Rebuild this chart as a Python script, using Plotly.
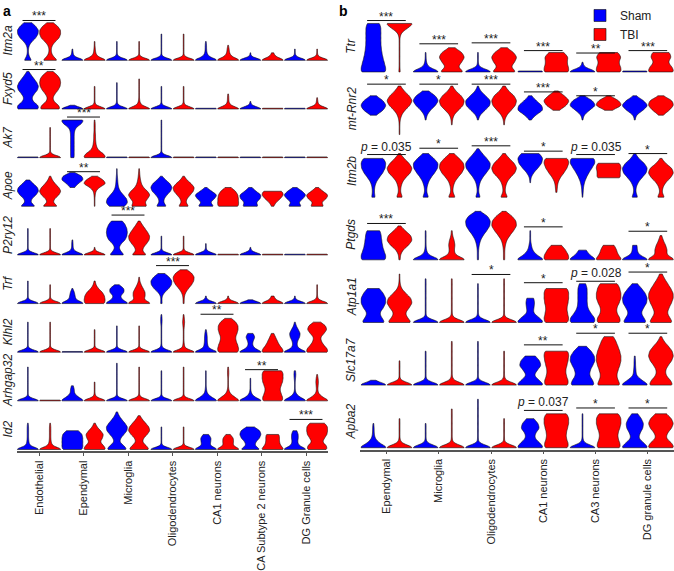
import plotly.graph_objects as go

# ---------------- data ----------------
# Each violin is a density profile: relative weight of cells at expression
# levels 0, 1, 2, ... (row units, 10 = tallest violin of the row).
# A single-entry profile means (almost) all cells at zero expression.

A_CELLS = ["Endothelial", "Ependymal", "Microglia", "Oligodendrocytes",
           "CA1 neurons", "CA Subtype 2 neurons", "DG Granule cells"]
A_GENES = ["Itm2a", "Fxyd5", "Ak7", "Apoe", "P2ry12", "Trf", "Klhl2", "Arhgap32", "Id2"]

ITM2A_SHAM = [[15, 5, 2, 2, 5, 15, 30, 38, 40, 30, 15], [40, 4, 2, 1], [40, 2, 1, 1, 1, 1],
              [40, 1, 1, 1, 1, 1, 1, 1], [40, 8, 3, 2, 2, 1], [40, 1, 1], [40, 2, 1, 1]]
ITM2A_TBI = [[30, 12, 5, 4, 8, 20, 35, 40, 40, 30, 12], [40, 8, 3, 2, 1, 1], [40, 1, 1, 1, 1, 1],
             [40, 1, 1, 1, 1, 1, 1, 1], [40, 10, 4, 3, 1], [40, 8, 3], [40, 2, 1, 1]]
FXYD5_SHAM = [[40, 36, 18, 14, 22, 34, 38, 32, 22, 12, 3], [40, 1], [40, 2, 1, 1, 1, 1, 1, 1],
              [40, 1, 1, 1, 1, 1, 1], [40], [40, 2, 1], [40]]
FXYD5_TBI = [[40, 32, 14, 10, 18, 30, 38, 40, 38, 28, 10], [40, 2, 1, 1, 1, 1, 1],
             [40, 6, 2, 1, 1, 1, 1, 1, 1], [40, 2, 1, 1, 1, 1, 1], [40, 6, 2, 2, 1], [40], [40, 4, 2, 1]]
AK7_SHAM = [[40], [6, 6, 6, 6, 6, 6, 6, 7, 12, 30, 40], [40], [40, 1, 1, 1, 1, 1, 1, 1, 1, 1, 1],
            [40], [40], [40]]
AK7_TBI = [[40, 1, 1, 1, 1, 1, 1, 1, 1], [40, 30, 12, 6, 4, 3, 3, 2, 2, 2, 1], [40], [40],
           [40], [40], [40]]
APOE_SHAM = [[30, 10, 14, 30, 40, 36, 20, 6], [0, 0, 0, 0, 0, 8, 20, 40, 36, 6],
             [30, 40, 36, 24, 12, 6, 4, 3, 2, 1, 1], [20, 8, 10, 20, 34, 40, 32, 16, 2],
             [30, 14, 30, 40, 20, 2], [30, 20, 36, 40, 20, 5], [25, 12, 28, 40, 26, 6]]
APOE_TBI = [[30, 10, 16, 32, 40, 32, 18, 8, 2], [1, 1, 1, 2, 4, 15, 40, 30, 8],
            [30, 20, 30, 40, 30, 15, 8, 5, 3, 2, 1], [20, 8, 12, 24, 36, 40, 28, 12, 2],
            [40, 38, 38, 36, 28, 10], [4, 12, 28, 40, 36], [25, 14, 32, 40, 20, 4]]
P2RY12_SHAM = [[40, 1, 1, 1, 1, 1, 1, 1], [40, 5, 2, 2, 1], [30, 14, 8, 16, 32, 38, 40, 38, 32, 22],
               [40, 1, 1, 1, 1, 1], [40, 2, 1, 1], [40, 2, 1], [40]]
P2RY12_TBI = [[40, 1, 1, 1, 1, 1, 1, 1], [40, 1, 1], [30, 12, 16, 28, 38, 40, 32, 22, 12, 3],
              [40, 1, 1, 1, 1, 1], [40], [40], [40]]
TRF_SHAM = [[40, 1, 1, 1, 1, 1, 1], [40, 10, 8, 6, 1], [40, 16, 10, 22, 22, 6],
            [3, 2, 3, 12, 28, 38, 40, 30, 12], [40, 2, 1], [40, 1], [40, 1, 1]]
TRF_TBI = [[40, 1, 1, 1, 1, 1], [40, 40, 38, 30, 14, 5, 2], [40, 14, 18, 18, 12, 6, 2, 1],
           [2, 2, 3, 8, 18, 30, 38, 40, 32, 12], [40, 2, 1], [40, 8, 4], [40, 3, 1, 1, 1, 1]]
KLHL2_SHAM = [[40, 1, 1, 1, 1, 1, 1, 1, 1], [40], [40, 1, 1, 1, 1, 1, 1, 1],
              [40, 3, 1, 1, 1, 1, 1, 1, 2, 2, 1], [40, 8, 5, 4, 4, 3, 1], [40, 12, 6, 8, 14, 8],
              [40, 10, 6, 8, 14, 16, 10, 4, 1]]
KLHL2_TBI = [[40, 1, 1, 1, 1, 1, 1, 1, 1], [40, 1, 1, 1, 1, 1, 1], [40, 1, 1, 1, 1, 1, 1, 1],
             [40, 4, 2, 1, 1, 1, 1, 2, 3, 2, 1], [40, 40, 36, 30, 28, 34, 38, 38, 30, 12],
             [40, 32, 22, 16, 10, 4], [40, 34, 22, 14, 12, 24, 34, 30, 12]]
ARHGAP32_SHAM = [[40, 1, 1, 1, 1, 1, 1, 1, 1, 1], [40, 18, 6, 6, 3], [40, 1, 1, 1, 1, 1, 1, 1, 1, 1, 1],
                 [40, 1, 1, 1, 1, 1, 1, 1, 1], [40, 16, 4, 2, 1, 1, 1, 1, 1], [40, 12, 3, 1, 1, 1, 1],
                 [40, 14, 3, 1, 1, 1, 2, 3, 2]]
ARHGAP32_TBI = [[40], [40, 3, 1, 1, 1, 1], [40, 2, 1, 1, 1, 1, 1, 1, 1, 1], [40, 1, 1, 1, 1, 1, 1, 1, 1, 1],
                [40, 20, 6, 2, 1, 1, 1, 2, 2, 1], [40, 38, 32, 28, 32, 38, 40, 40, 38],
                [40, 16, 4, 2, 3, 4, 3, 1]]
ID2_SHAM = [[40, 5, 3, 2, 2, 2, 2, 1], [40, 40, 40, 40, 38, 24], [40, 26, 10, 14, 26, 38, 40, 30, 18, 8, 2],
            [40, 1, 1, 1, 1, 1, 1], [40, 12, 14, 16, 8], [40, 16, 20, 34, 40, 36, 14], [40, 12, 8, 10, 10, 6]]
ID2_TBI = [[40, 6, 3, 2, 2, 2, 2, 1], [40, 30, 18, 26, 30, 20, 8, 2], [40, 26, 12, 16, 30, 40, 36, 24, 12, 3],
           [40, 1, 1, 1, 1, 1, 1], [40, 14, 16, 16, 6], [40, 26, 22, 22, 22], [40, 36, 20, 28, 38, 40, 40, 30]]

A_SHAM = [ITM2A_SHAM, FXYD5_SHAM, AK7_SHAM, APOE_SHAM, P2RY12_SHAM, TRF_SHAM, KLHL2_SHAM, ARHGAP32_SHAM, ID2_SHAM]
A_TBI = [ITM2A_TBI, FXYD5_TBI, AK7_TBI, APOE_TBI, P2RY12_TBI, TRF_TBI, KLHL2_TBI, ARHGAP32_TBI, ID2_TBI]

A_SIG = [("Itm2a", "Endothelial", "***", 10.6), ("Fxyd5", "Endothelial", "**", 10.5),
         ("Ak7", "Ependymal", "***", 10.8), ("Apoe", "Ependymal", "**", 9.2),
         ("P2ry12", "Microglia", "***", 10.6), ("Trf", "Oligodendrocytes", "***", 10.1),
         ("Klhl2", "CA1 neurons", "**", 10.1), ("Arhgap32", "CA Subtype 2 neurons", "**", 8.3),
         ("Id2", "DG Granule cells", "***", 8.0)]

B_CELLS = ["Ependymal", "Microglia", "Oligodendrocytes", "CA1 neurons", "CA3 neurons", "DG granule cells"]
B_GENES = ["Ttr", "mt-Rnr2", "Itm2b", "Ptgds", "Atp1a1", "Slc17a7", "Apba2"]

TTR_SHAM = [[40, 37, 33, 29, 26, 24, 23, 23, 23, 23, 20], [40, 6, 2, 1, 1], [40, 2, 1, 1, 1], [40], [40, 3, 1], [40]]
TTR_TBI = [[2, 1, 1, 1, 1, 1, 1, 1, 4, 20, 40], [40, 18, 30, 40, 32, 8], [40, 20, 32, 40, 30, 8],
           [40, 36, 32, 36, 24], [40, 36, 30, 38, 30], [40, 32, 20, 30, 26]]
MTRNR2_SHAM = [[0, 0, 0, 0, 8, 30, 40, 30, 8], [0, 0, 0, 1, 4, 14, 30, 40, 30, 8],
               [0, 0, 0, 1, 6, 22, 38, 40, 24, 8, 1], [0, 0, 0, 2, 16, 40, 36, 18, 4],
               [0, 0, 0, 1, 4, 20, 40, 30, 4], [0, 0, 0, 1, 4, 24, 40, 26, 3]]
MTRNR2_TBI = [[1, 1, 1, 2, 6, 16, 32, 40, 30, 14, 3], [0, 0, 1, 2, 6, 20, 36, 40, 30, 12, 2],
              [0, 0, 1, 2, 8, 22, 36, 40, 32, 14, 3], [0, 0, 0, 0, 0, 8, 30, 40, 24, 4],
              [0, 0, 0, 0, 0, 8, 40, 30, 2], [0, 0, 0, 0, 6, 26, 40, 36, 6]]
ITM2B_SHAM = [[6, 3, 4, 8, 18, 30, 38, 40, 34], [10, 3, 4, 8, 16, 28, 38, 40, 26, 8],
              [8, 2, 3, 6, 14, 26, 38, 40, 28, 14, 2], [0, 0, 0, 1, 2, 10, 24, 36, 40, 30],
              [1, 2, 3, 6, 12, 20, 30, 40, 40], [10, 3, 4, 10, 22, 36, 40, 30, 12, 2]]
ITM2B_TBI = [[10, 3, 4, 8, 18, 34, 40, 30, 14, 2], [12, 3, 4, 8, 18, 32, 40, 38, 24, 6],
             [12, 3, 4, 8, 18, 34, 40, 32, 16, 3], [0, 2, 3, 5, 12, 24, 34, 40, 38],
             [0, 0, 0, 0, 38, 34, 38, 36], [12, 3, 6, 14, 30, 40, 34, 14, 2]]
PTGDS_SHAM = [[40, 38, 32, 28, 26, 24, 22], [40, 6, 2, 1, 1, 1, 1], [2, 2, 2, 4, 8, 16, 28, 38, 40, 32, 6],
              [40, 16, 6, 3, 1, 1, 1], [40, 18, 10], [40, 10, 6, 6]]
PTGDS_TBI = [[2, 3, 10, 28, 40, 36, 18, 3], [40, 8, 6, 8, 6, 2, 1], [2, 2, 2, 4, 8, 18, 30, 40, 38, 26, 4],
             [40, 36, 28, 16], [40, 26, 22, 16], [40, 14, 16, 12, 6, 2]]
ATP1A1_SHAM = [[40, 26, 20, 32, 40, 40, 32, 20], [40, 1, 1, 1, 1, 1, 1, 1, 1, 1],
               [40, 2, 1, 1, 1, 1, 1, 1, 1], [40, 24, 8, 10, 12, 10],
               [40, 36, 24, 16, 14, 14, 14, 14, 10], [40, 28, 20, 28, 38, 40, 34, 22, 8]]
ATP1A1_TBI = [[40, 24, 18, 30, 40, 36, 20, 6, 2, 1, 1], [40, 2, 1, 1, 1, 1, 1, 1, 1, 1],
              [40, 1, 1, 1, 1, 1, 1, 1, 1, 1], [40, 40, 36, 34, 38, 40, 40, 38],
              [40, 36, 26, 26, 34, 40, 40, 36, 30], [40, 28, 20, 26, 34, 40, 40, 32, 22, 12, 4]]
SLC17A7_SHAM = [[40, 1], [40, 1, 1, 1, 1, 1, 1, 1], [40, 1, 1, 1, 1, 1, 1, 1, 1, 1],
                [40, 24, 10, 18, 30, 26, 14], [40, 32, 22, 24, 32, 40, 38, 28, 12], [40, 18, 4, 3, 2, 2, 1]]
SLC17A7_TBI = [[40, 1, 1, 1, 1, 1], [40, 3, 1, 1, 1, 1, 1, 1, 1, 1], [40, 2, 1, 1, 1, 1, 1, 1],
               [40, 38, 32, 30, 34, 38, 40, 40], [40, 30, 26, 30, 36, 40, 40, 36, 30, 24, 16],
               [40, 30, 16, 14, 22, 34, 40, 36, 24, 10, 2]]
APBA2_SHAM = [[40, 14, 4, 2, 2, 1], [40, 2, 1, 1, 1, 1], [40, 1, 1, 1, 1, 1, 1, 1, 1, 1, 1],
              [40, 26, 12, 14, 26, 22, 10], [40, 3, 1, 1, 1, 1, 1, 1], [40, 24, 10, 14, 22, 24, 18, 8]]
APBA2_TBI = [[40, 3, 1, 1, 1, 1, 1], [40, 2, 1, 1, 1, 1, 1, 1, 1], [40, 1, 1, 1, 1, 1, 1],
             [40, 38, 32, 32, 36, 40, 40, 36], [40, 36, 30, 30, 36, 40, 40, 34], [40, 30, 14, 18, 30, 36, 30, 16]]

B_SHAM = [TTR_SHAM, MTRNR2_SHAM, ITM2B_SHAM, PTGDS_SHAM, ATP1A1_SHAM, SLC17A7_SHAM, APBA2_SHAM]
B_TBI = [TTR_TBI, MTRNR2_TBI, ITM2B_TBI, PTGDS_TBI, ATP1A1_TBI, SLC17A7_TBI, APBA2_TBI]

B_SIG = [("Ttr", "Ependymal", "***", 10.6), ("Ttr", "Microglia", "***", 5.8),
         ("Ttr", "Oligodendrocytes", "***", 6.0), ("Ttr", "CA1 neurons", "***", 4.4),
         ("Ttr", "CA3 neurons", "**", 3.9), ("Ttr", "DG granule cells", "***", 4.4),
         ("mt-Rnr2", "Ependymal", "*", 10.4), ("mt-Rnr2", "Microglia", "*", 10.4),
         ("mt-Rnr2", "Oligodendrocytes", "***", 10.4), ("mt-Rnr2", "CA1 neurons", "***", 8.8),
         ("mt-Rnr2", "CA3 neurons", "*", 8.0),
         ("Itm2b", "Ependymal", "p = 0.035", 8.8), ("Itm2b", "Microglia", "*", 10.1),
         ("Itm2b", "Oligodendrocytes", "***", 10.6), ("Itm2b", "CA1 neurons", "*", 9.5),
         ("Itm2b", "CA3 neurons", "p = 0.035", 8.8), ("Itm2b", "DG granule cells", "*", 9.0),
         ("Ptgds", "Ependymal", "***", 7.5), ("Ptgds", "CA1 neurons", "*", 6.8),
         ("Ptgds", "DG granule cells", "*", 5.9),
         ("Atp1a1", "Oligodendrocytes", "*", 9.9), ("Atp1a1", "CA1 neurons", "*", 8.2),
         ("Atp1a1", "CA3 neurons", "p = 0.028", 8.5), ("Atp1a1", "DG granule cells", "*", 10.4),
         ("Slc17a7", "CA1 neurons", "**", 8.3), ("Slc17a7", "CA3 neurons", "*", 10.7),
         ("Slc17a7", "DG granule cells", "*", 10.7),
         ("Apba2", "CA1 neurons", "p = 0.037", 7.7), ("Apba2", "CA3 neurons", "*", 8.2),
         ("Apba2", "DG granule cells", "*", 8.2)]

CONDITIONS = ["Sham", "TBI"]
COLORS = {"Sham": "#0000FF", "TBI": "#FF0000"}
ZERO_SPREAD = 0.2   # tiny spread for zero-only violins

# ---------------- layout helpers ----------------
W, H = 674, 571
FONT = "Liberation Sans, Arial, sans-serif"


def samples(profile):
    if len(profile) == 1:
        return [0.0] * profile[0] + [ZERO_SPREAD]
    return [float(lvl) for lvl, w in enumerate(profile) for _ in range(w)]


fig = go.Figure()
layout = {}
shapes, annotations = [], []
legend_done = set()
axis_counter = [0]

PANELS = [
    dict(genes=A_GENES, cells=A_CELLS, sham=A_SHAM, tbi=A_TBI, sig=A_SIG,
         x0=16.75, x1=328.25, base0=61.0, step=49.16, unit=3.8, head=60.0, label_x=8.0),
    dict(genes=B_GENES, cells=B_CELLS, sham=B_SHAM, tbi=B_TBI, sig=B_SIG,
         x0=360.3, x1=674.0, base0=72.7, step=63.3, unit=4.9, head=75.0, label_x=351.5),
]
PAD = 2.0

for pi, P in enumerate(PANELS):
    ngen = len(P["genes"])
    gene_axis = {}
    for r, gene in enumerate(P["genes"]):
        axis_counter[0] += 1
        n = axis_counter[0]
        xs = "x" if n == 1 else f"x{n}"
        ys = "y" if n == 1 else f"y{n}"
        gene_axis[gene] = (xs, ys)
        base = P["base0"] + P["step"] * r
        top_px = max(0.0, base - P["head"])
        bottom = (r == ngen - 1)
        layout["xaxis" if n == 1 else f"xaxis{n}"] = dict(
            domain=[P["x0"] / W, P["x1"] / W], anchor=ys, type="category",
            categoryorder="array", categoryarray=P["cells"],
            range=[-0.5, len(P["cells"]) - 0.5],
            showgrid=False, zeroline=False, showline=bottom, linecolor="#555", linewidth=1.5,
            ticks="outside" if bottom else "", ticklen=3, tickcolor="#555",
            showticklabels=bottom, tickangle=-90,
            tickfont=dict(size=11, color="#222", family=FONT), fixedrange=True)
        layout["yaxis" if n == 1 else f"yaxis{n}"] = dict(
            domain=[1 - (base + PAD) / H, 1 - top_px / H], anchor=xs,
            range=[-PAD / P["unit"], (base - top_px) / P["unit"]],
            showgrid=False, zeroline=False, showline=False, showticklabels=False,
            ticks="", fixedrange=True)
        for cond, store in (("Sham", P["sham"]), ("TBI", P["tbi"])):
            for ci, cell in enumerate(P["cells"]):
                ys_vals = samples(store[r][ci])
                show = cond not in legend_done
                legend_done.add(cond)
                fig.add_trace(go.Violin(
                    x=[cell] * len(ys_vals), y=ys_vals, xaxis=xs, yaxis=ys,
                    name=cond, legendgroup=cond, showlegend=show,
                    offsetgroup=cond, alignmentgroup=f"g{n}",
                    scalegroup=f"{gene}|{cell}|{cond}", scalemode="width",
                    spanmode="hard", bandwidth=0.55, points=False,
                    fillcolor=COLORS[cond], opacity=1,
                    line=dict(color="#111", width=0.6),
                    box_visible=False, meanline_visible=False, hoverinfo="skip"))
        annotations.append(dict(
            text=f"<i>{gene}</i>", xref="paper", x=P["label_x"] / W, yref=ys, y=5.3,
            textangle=-90, showarrow=False, xanchor="center", yanchor="middle",
            font=dict(size=12, color="#222", family=FONT)))
    for gene, cell, label, lvl in P["sig"]:
        xs, ys = gene_axis[gene]
        ci = P["cells"].index(cell)
        shapes.append(dict(type="line", xref=xs, yref=ys, x0=ci - 0.37, x1=ci + 0.37,
                           y0=lvl, y1=lvl, line=dict(color="#111", width=1)))
        if label.startswith("p"):
            txt = "<i>p</i>" + label[1:]
            annotations.append(dict(text=txt, xref=xs, yref=ys, x=ci, y=lvl, showarrow=False,
                                    xanchor="center", yanchor="bottom", yshift=-1,
                                    font=dict(size=12, color="#222", family=FONT)))
        else:
            annotations.append(dict(text=label, xref=xs, yref=ys, x=ci, y=lvl, showarrow=False,
                                    xanchor="center", yanchor="bottom", yshift=-5,
                                    font=dict(size=12, color="#222", family=FONT)))

annotations.append(dict(text="<b>a</b>", xref="paper", yref="paper", x=1 / W, y=1 - 1 / H,
                        xanchor="left", yanchor="top", showarrow=False,
                        font=dict(size=14, color="#000", family=FONT)))
annotations.append(dict(text="<b>b</b>", xref="paper", yref="paper", x=337 / W, y=1 - 1 / H,
                        xanchor="left", yanchor="top", showarrow=False,
                        font=dict(size=14, color="#000", family=FONT)))

fig.update_layout(
    width=W, height=H, autosize=False,
    margin=dict(l=0, r=0, t=0, b=0, pad=0),
    paper_bgcolor="white", plot_bgcolor="rgba(0,0,0,0)",
    violinmode="group", violingap=0, violingroupgap=0.06,
    font=dict(family=FONT, size=12, color="#222"),
    legend=dict(x=580 / W, y=1 - 1 / H, xanchor="left", yanchor="top",
                bgcolor="rgba(0,0,0,0)", font=dict(size=12, family=FONT, color="#222"),
                tracegroupgap=0, itemwidth=30),
    hovermode=False,
    shapes=shapes, annotations=annotations,
    **layout)

fig.write_html("out.html", config={"displayModeBar": False},
               post_script="document.body.style.margin='0px';document.body.style.overflow='hidden';")
